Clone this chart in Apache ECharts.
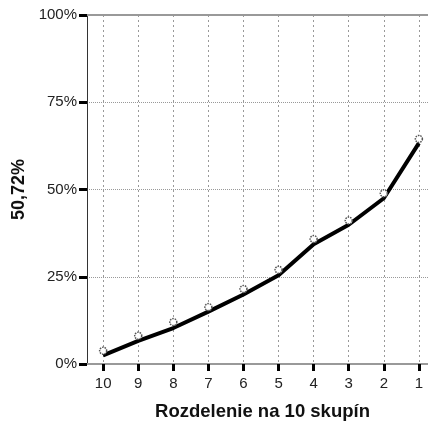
<!DOCTYPE html>
<html>
<head>
<meta charset="utf-8">
<script src="https://cdn.jsdelivr.net/npm/echarts@6/dist/echarts.min.js"></script>
<style>
  html, body { margin: 0; padding: 0; background: #fff; }
  #chart { width: 428px; height: 426px; }
</style>
</head>
<body>
<div id="chart"></div>
<script>
// Groups, from the tenth down to the first
const groups = [10, 9, 8, 7, 6, 5, 4, 3, 2, 1];
// Observed share per group (%), drawn as small open markers
const observed = [3.8, 8.1, 12.0, 16.3, 21.5, 27.0, 35.8, 41.1, 48.9, 64.5];
// Fitted curve per group (%), drawn as the thick line
const fitted = [2.5, 6.6, 10.3, 15.0, 19.9, 25.4, 34.3, 39.9, 47.5, 63.3];
// Y axis ticks (%)
const yTicks = [0, 25, 50, 75, 100];

const FONT = 'Liberation Sans, Arial, sans-serif';

// group axis runs from half a band left of "10" to just past "1"
const X_MIN = 0.74;
const X_MAX = 10.46;

const chart = echarts.init(document.getElementById('chart'), null, { renderer: 'canvas' });

chart.setOption({
  animation: false,
  backgroundColor: '#ffffff',
  grid: { left: 87, top: 15, right: 0, bottom: 60, containLabel: false },
  xAxis: [
    {
      type: 'value',
      inverse: true,
      min: X_MIN,
      max: X_MAX,
      name: 'Rozdelenie na 10 skupín',
      nameLocation: 'middle',
      nameGap: 38,
      nameTextStyle: { fontFamily: FONT, fontSize: 18.5, fontWeight: 'bold', color: '#111', padding: [0, 0, 0, 10] },
      axisLine: { show: true, lineStyle: { color: '#999', width: 2 } },
      axisTick: { show: true, customValues: groups, length: 7, lineStyle: { color: '#000', width: 3 } },
      axisLabel: { fontFamily: FONT, fontSize: 15, color: '#222', margin: 12, customValues: groups },
      splitLine: { show: true, lineStyle: { color: '#999', type: [2, 3], width: 1 } }
    },
    {
      // top frame line at 100%
      type: 'value',
      inverse: true,
      min: X_MIN,
      max: X_MAX,
      position: 'top',
      axisLine: { show: true, lineStyle: { color: '#999', width: 2 } },
      axisTick: { show: false },
      axisLabel: { show: false },
      splitLine: { show: false }
    }
  ],
  yAxis: {
    type: 'value',
    min: yTicks[0],
    max: yTicks[yTicks.length - 1],
    interval: 25,
    name: '50,72%',
    nameLocation: 'middle',
    nameGap: 59,
    nameRotate: 90,
    nameTextStyle: { fontFamily: FONT, fontSize: 18, fontWeight: 'bold', color: '#111' },
    axisLine: { show: true, lineStyle: { color: '#333', width: 1 } },
    axisTick: { show: true, length: 8, lineStyle: { color: '#000', width: 3 } },
    axisLabel: { fontFamily: FONT, fontSize: 15, color: '#222', margin: 10, formatter: '{value}%' },
    splitLine: { show: true, lineStyle: { color: '#999', type: [1, 1], width: 1 } }
  },
  series: [
    {
      name: 'fitted',
      type: 'line',
      data: groups.map((g, i) => [g, fitted[i]]),
      showSymbol: false,
      symbol: 'none',
      lineStyle: { color: '#000', width: 4 },
      z: 3
    },
    {
      name: 'observed',
      type: 'line',
      data: groups.map((g, i) => [g, observed[i]]),
      lineStyle: { width: 0, opacity: 0 },
      symbol: 'circle',
      symbolSize: 7,
      itemStyle: { color: '#fff', borderColor: '#555', borderWidth: 1.5, borderType: [1.5, 1] },
      z: 4
    }
  ]
});
</script>
</body>
</html>
